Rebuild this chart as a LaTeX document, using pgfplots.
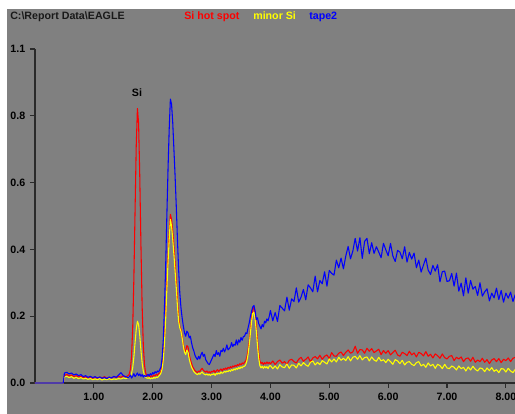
\documentclass[border=0pt]{standalone}
\usepackage{pgfplots}
\pgfplotsset{compat=1.18}
\usepackage{pgfplotstable}
\usepackage{fontspec}
\setmainfont{Liberation Sans}

\definecolor{panelgray}{HTML}{808080}
\definecolor{axisdark}{HTML}{2A2A2A}
\definecolor{hotred}{HTML}{FF0000}
\definecolor{minoryel}{HTML}{FFFF00}
\definecolor{tapeblue}{HTML}{0000FF}

% EDS spectra, counts normalised; kev = energy
\pgfplotstableread{
kev red yel blue
0.00 0 0 0
0.48 0 0 0
0.50 0.022 0.018 0.030
0.54 0.026 0.020 0.032
0.58 0.021 0.016 0.027
0.62 0.024 0.019 0.030
0.66 0.019 0.014 0.024
0.70 0.022 0.017 0.027
0.74 0.018 0.013 0.022
0.78 0.020 0.016 0.025
0.82 0.016 0.012 0.019
0.86 0.019 0.014 0.022
0.90 0.015 0.011 0.017
0.94 0.018 0.013 0.020
0.98 0.014 0.010 0.016
1.02 0.017 0.012 0.019
1.06 0.014 0.010 0.015
1.10 0.018 0.013 0.018
1.14 0.015 0.009 0.014
1.18 0.019 0.012 0.017
1.22 0.014 0.010 0.013
1.26 0.017 0.013 0.018
1.30 0.015 0.010 0.015
1.34 0.019 0.012 0.020
1.38 0.016 0.011 0.017
1.42 0.020 0.013 0.024
1.46 0.017 0.012 0.031
1.50 0.021 0.015 0.022
1.54 0.018 0.013 0.019
1.58 0.022 0.016 0.016
1.60 0.026 0.018 0.018
1.62 0.040 0.020 0.024
1.64 0.079 0.028 0.015
1.66 0.165 0.046 0.020
1.68 0.315 0.078 0.028
1.70 0.516 0.120 0.019
1.72 0.710 0.161 0.024
1.74 0.822 0.185 0.030
1.76 0.778 0.175 0.022
1.78 0.619 0.142 0.027
1.80 0.411 0.098 0.020
1.82 0.232 0.060 0.025
1.84 0.114 0.036 0.018
1.86 0.055 0.023 0.023
1.88 0.030 0.017 0.019
1.90 0.022 0.015 0.022
1.92 0.020 0.014 0.026
1.94 0.024 0.016 0.021
1.96 0.018 0.012 0.028
1.98 0.022 0.015 0.024
2.00 0.019 0.013 0.031
2.02 0.024 0.017 0.027
2.04 0.021 0.014 0.034
2.06 0.026 0.018 0.030
2.08 0.023 0.016 0.036
2.10 0.028 0.020 0.033
2.12 0.030 0.024 0.040
2.14 0.036 0.030 0.048
2.16 0.050 0.042 0.075
2.18 0.080 0.070 0.130
2.20 0.135 0.120 0.230
2.22 0.210 0.190 0.350
2.24 0.300 0.280 0.500
2.26 0.380 0.360 0.640
2.28 0.450 0.430 0.760
2.30 0.505 0.490 0.850
2.32 0.490 0.470 0.835
2.34 0.455 0.430 0.780
2.36 0.410 0.385 0.700
2.38 0.360 0.335 0.620
2.40 0.305 0.285 0.530
2.42 0.250 0.230 0.430
2.44 0.200 0.185 0.340
2.46 0.170 0.165 0.270
2.48 0.160 0.155 0.225
2.50 0.140 0.135 0.195
2.52 0.115 0.110 0.170
2.54 0.100 0.092 0.150
2.56 0.095 0.085 0.140
2.58 0.112 0.098 0.155
2.60 0.108 0.092 0.150
2.62 0.085 0.072 0.135
2.64 0.070 0.058 0.140
2.66 0.058 0.047 0.120
2.68 0.048 0.040 0.105
2.70 0.042 0.034 0.095
2.72 0.036 0.030 0.082
2.74 0.034 0.027 0.075
2.76 0.031 0.025 0.070
2.78 0.036 0.029 0.080
2.80 0.034 0.026 0.072
2.82 0.040 0.030 0.085
2.84 0.044 0.033 0.092
2.86 0.038 0.028 0.080
2.88 0.035 0.026 0.086
2.90 0.032 0.024 0.070
2.92 0.036 0.027 0.064
2.94 0.031 0.023 0.058
2.96 0.034 0.026 0.055
2.98 0.030 0.022 0.062
3.00 0.035 0.026 0.070
3.02 0.033 0.025 0.078
3.04 0.038 0.028 0.086
3.06 0.031 0.023 0.079
3.08 0.036 0.029 0.097
3.10 0.040 0.026 0.085
3.12 0.034 0.030 0.091
3.14 0.039 0.027 0.080
3.16 0.042 0.033 0.098
3.18 0.036 0.029 0.094
3.20 0.043 0.031 0.104
3.22 0.040 0.035 0.093
3.24 0.045 0.032 0.101
3.26 0.041 0.036 0.114
3.28 0.047 0.034 0.099
3.30 0.044 0.038 0.103
3.32 0.049 0.035 0.108
3.34 0.045 0.040 0.121
3.36 0.051 0.037 0.109
3.38 0.048 0.042 0.116
3.40 0.053 0.039 0.113
3.42 0.050 0.044 0.129
3.44 0.055 0.041 0.114
3.46 0.052 0.046 0.129
3.48 0.058 0.043 0.122
3.50 0.054 0.048 0.136
3.52 0.060 0.045 0.128
3.54 0.057 0.050 0.139
3.56 0.062 0.050 0.140
3.58 0.066 0.055 0.150
3.60 0.078 0.066 0.148
3.62 0.098 0.086 0.165
3.64 0.125 0.115 0.180
3.66 0.160 0.150 0.200
3.68 0.195 0.185 0.215
3.70 0.220 0.208 0.228
3.72 0.226 0.212 0.232
3.74 0.205 0.190 0.215
3.76 0.170 0.155 0.190
3.78 0.128 0.112 0.195
3.80 0.090 0.075 0.178
3.82 0.066 0.052 0.170
3.84 0.058 0.045 0.162
3.86 0.062 0.050 0.175
3.88 0.055 0.044 0.168
3.90 0.061 0.050 0.185
3.92 0.057 0.045 0.180
3.94 0.063 0.049 0.192
3.96 0.058 0.043 0.186
3.98 0.062 0.051 0.200
4.00 0.057 0.052 0.217
4.04 0.066 0.043 0.186
4.08 0.055 0.051 0.211
4.12 0.064 0.042 0.184
4.16 0.069 0.055 0.232
4.20 0.059 0.048 0.224
4.24 0.064 0.046 0.216
4.28 0.056 0.057 0.257
4.32 0.068 0.044 0.218
4.36 0.071 0.054 0.252
4.40 0.064 0.053 0.244
4.44 0.060 0.045 0.285
4.48 0.071 0.059 0.242
4.52 0.077 0.051 0.257
4.56 0.065 0.061 0.280
4.60 0.071 0.054 0.249
4.64 0.078 0.050 0.294
4.68 0.063 0.062 0.285
4.72 0.075 0.066 0.273
4.76 0.079 0.054 0.320
4.80 0.072 0.062 0.273
4.84 0.083 0.055 0.307
4.88 0.071 0.067 0.297
4.92 0.080 0.062 0.333
4.96 0.084 0.057 0.290
5.00 0.073 0.072 0.337
5.04 0.091 0.063 0.328
5.08 0.081 0.072 0.323
5.12 0.080 0.063 0.368
5.16 0.089 0.077 0.345
5.20 0.093 0.068 0.374
5.24 0.082 0.074 0.342
5.28 0.092 0.067 0.380
5.32 0.099 0.079 0.409
5.36 0.089 0.066 0.372
5.40 0.093 0.077 0.395
5.44 0.110 0.080 0.433
5.48 0.089 0.071 0.395
5.52 0.100 0.082 0.435
5.56 0.099 0.069 0.373
5.60 0.089 0.076 0.424
5.64 0.104 0.078 0.433
5.68 0.095 0.066 0.387
5.72 0.103 0.078 0.420
5.76 0.091 0.069 0.388
5.80 0.096 0.065 0.408
5.84 0.101 0.077 0.392
5.88 0.085 0.066 0.375
5.92 0.097 0.070 0.418
5.96 0.089 0.061 0.399
6.00 0.097 0.071 0.381
6.04 0.084 0.064 0.418
6.08 0.091 0.056 0.380
6.12 0.098 0.070 0.364
6.16 0.084 0.066 0.397
6.20 0.080 0.058 0.392
6.24 0.092 0.068 0.372
6.28 0.088 0.054 0.408
6.32 0.082 0.062 0.362
6.36 0.095 0.064 0.391
6.40 0.084 0.056 0.371
6.44 0.090 0.052 0.389
6.48 0.078 0.061 0.345
6.52 0.092 0.064 0.368
6.56 0.088 0.051 0.332
6.60 0.081 0.056 0.353
6.64 0.094 0.047 0.374
6.68 0.080 0.060 0.338
6.72 0.086 0.051 0.325
6.76 0.075 0.056 0.352
6.80 0.087 0.044 0.335
6.84 0.082 0.056 0.354
6.88 0.074 0.052 0.303
6.92 0.087 0.043 0.333
6.96 0.076 0.056 0.335
7.00 0.072 0.045 0.304
7.04 0.080 0.043 0.306
7.08 0.082 0.051 0.328
7.12 0.067 0.047 0.290
7.16 0.077 0.039 0.329
7.20 0.072 0.051 0.275
7.24 0.078 0.043 0.299
7.28 0.064 0.047 0.261
7.32 0.073 0.036 0.315
7.36 0.075 0.048 0.269
7.40 0.065 0.039 0.307
7.44 0.077 0.050 0.281
7.48 0.062 0.041 0.289
7.52 0.069 0.036 0.262
7.56 0.064 0.045 0.300
7.60 0.074 0.043 0.260
7.64 0.062 0.034 0.273
7.68 0.070 0.045 0.282
7.72 0.058 0.037 0.246
7.76 0.069 0.046 0.269
7.80 0.073 0.035 0.255
7.84 0.064 0.040 0.284
7.88 0.073 0.031 0.250
7.92 0.061 0.043 0.277
7.96 0.071 0.042 0.242
8.00 0.067 0.033 0.269
8.04 0.075 0.044 0.254
8.08 0.064 0.036 0.272
8.12 0.074 0.031 0.244
8.16 0.077 0.041 0.265
}\spectra

\begin{document}
\begin{tikzpicture}
% canvas 515x414 px at 0.75pt per px; axis origin sits at px (35,383)
\fill[white] (-26.25pt,-23.25pt) rectangle (360pt,287.25pt);
\fill[panelgray] (-21pt,-23.25pt) rectangle (360pt,280.5pt);

\node[anchor=base west, inner sep=0pt, font=\bfseries\fontsize{8}{9.6}\selectfont, text=black!90]
  at (-18.75pt,272.25pt) {C:\textbackslash Report Data\textbackslash EAGLE};
\node[anchor=base west, inner sep=0pt, font=\bfseries\fontsize{8}{9.6}\selectfont, text=hotred]
  at (111.75pt,272.25pt) {Si hot spot};
\node[anchor=base west, inner sep=0pt, font=\bfseries\fontsize{8}{9.6}\selectfont, text=minoryel]
  at (163.5pt,272.25pt) {minor Si};
\node[anchor=base west, inner sep=0pt, font=\bfseries\fontsize{8}{9.6}\selectfont, text=tapeblue]
  at (205.5pt,272.25pt) {tape2};

\begin{axis}[
  at={(0pt,0pt)}, anchor=south west,
  scale only axis, width=360pt, height=250.5pt,
  xmin=0, xmax=8.155, ymin=0, ymax=1,
  axis x line=bottom, axis y line=left,
  axis line style={-, axisdark, line width=1.1pt},
  tick align=outside, major tick length=3.75pt,
  tick style={axisdark, line width=0.8pt},
  xtick={1,2,3,4,5,6,7,8},
  xticklabels={1.00,2.00,3.00,4.00,5.00,6.00,7.00,8.00},
  ytick={0,0.2,0.4,0.6,0.8,1.0},
  yticklabels={0.0,0.2,0.4,0.6,0.8,1.1},
  /pgf/number format/assume math mode=true,
  tick label style={font=\bfseries\fontsize{8}{9.6}\selectfont, text=black},
  clip=false,
  every axis plot/.append style={line width=0.8pt, line join=round},
]
\addplot[hotred, sharp plot] table[x=kev, y=red] {\spectra};
\addplot[minoryel, sharp plot] table[x=kev, y=yel] {\spectra};
\addplot[tapeblue, sharp plot] table[x=kev, y=blue] {\spectra};
\node[font=\bfseries\fontsize{8}{9.6}\selectfont] at (axis cs:1.733,0.868) {Si};
\end{axis}

\pgfresetboundingbox
\useasboundingbox (-26.25pt,-23.25pt) rectangle (360pt,287.25pt);
\end{tikzpicture}
\end{document}
